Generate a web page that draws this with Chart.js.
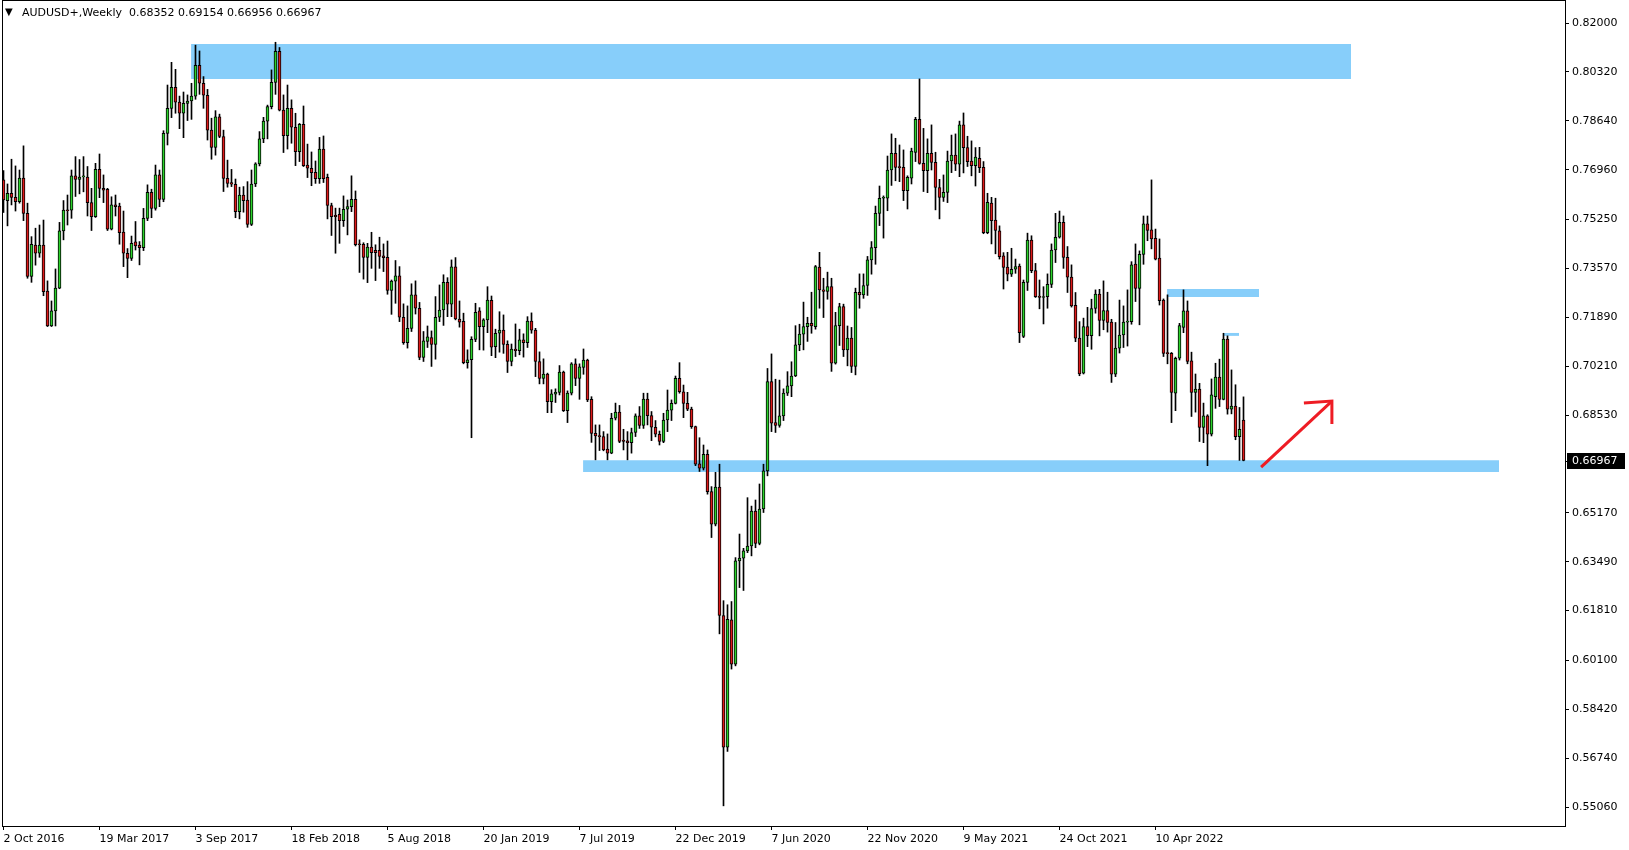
<!DOCTYPE html>
<html><head><meta charset="utf-8">
<script src="https://cdn.jsdelivr.net/npm/chart.js@4.4.1/dist/chart.umd.min.js"></script>
<style>html,body{margin:0;padding:0;background:#fff;overflow:hidden}#wrap{position:relative;width:1629px;height:850px}</style>
</head><body><div id="wrap"><canvas id="c" width="1629" height="850"></canvas></div>
<script>
const titleSymbol = "AUDUSD+,Weekly";
const titleValues = "0.68352 0.69154 0.66956 0.66967";

const opens = [0.7661,0.7590,0.7615,0.7601,0.7586,0.7667,0.7546,0.7329,0.7437,0.7409,
0.7437,0.7279,0.7159,0.7211,0.7289,0.7486,0.7557,0.7557,0.7675,0.7663,
0.7671,0.7671,0.7583,0.7535,0.7697,0.7632,0.7629,0.7492,0.7575,0.7571,
0.7482,0.7409,0.7391,0.7448,0.7437,0.7428,0.7529,0.7618,0.7563,0.7678,
0.7594,0.7821,0.7907,0.7979,0.7928,0.7890,0.7924,0.7932,0.7949,0.8055,
0.7993,0.7952,0.7832,0.7773,0.7878,0.7810,0.7666,0.7652,0.7646,0.7552,
0.7609,0.7592,0.7508,0.7647,0.7716,0.7802,0.7863,0.7913,0.7996,0.8103,
0.7901,0.7813,0.7907,0.7842,0.7758,0.7852,0.7712,0.7701,0.7687,0.7665,
0.7767,0.7670,0.7573,0.7539,0.7543,0.7521,0.7560,0.7569,0.7594,0.7440,
0.7440,0.7395,0.7430,0.7419,0.7419,0.7400,0.7395,0.7281,0.7313,0.7331,
0.7189,0.7102,0.7151,0.7266,0.7220,0.7051,0.7106,0.7119,0.7096,0.7189,
0.7214,0.7309,0.7234,0.7362,0.7183,0.7175,0.7033,0.7043,0.7113,0.7211,
0.7157,0.7180,0.7247,0.7088,0.7134,0.7145,0.7096,0.7037,0.7080,0.7074,
0.7111,0.7102,0.7176,0.7145,0.7037,0.6979,0.6994,0.6899,0.6925,0.6931,
0.7001,0.6868,0.6928,0.7029,0.6979,0.7017,0.7042,0.6907,0.6790,0.6781,
0.6779,0.6736,0.6722,0.6842,0.6863,0.6767,0.6764,0.6758,0.6793,0.6850,
0.6817,0.6908,0.6851,0.6811,0.6787,0.6762,0.6836,0.6870,0.6893,0.6979,
0.6933,0.6893,0.6873,0.6813,0.6685,0.6670,0.6718,0.6590,0.6478,0.6605,
0.6164,0.5712,0.6149,0.5997,0.6352,0.6361,0.6386,0.6403,0.6523,0.6412,
0.6530,0.6661,0.6968,0.6827,0.6817,0.6850,0.6928,0.6953,0.6987,0.7094,
0.7131,0.7157,0.7168,0.7157,0.7361,0.7283,0.7278,0.7294,0.7031,0.7160,
0.7226,0.7077,0.7117,0.7020,0.7275,0.7266,0.7298,0.7386,0.7428,0.7546,
0.7598,0.7598,0.7695,0.7752,0.7707,0.7704,0.7624,0.7667,0.7755,0.7869,
0.7718,0.7693,0.7752,0.7721,0.7635,0.7601,0.7618,0.7726,0.7746,0.7715,
0.7850,0.7772,0.7726,0.7710,0.7735,0.7704,0.7480,0.7581,0.7523,0.7486,
0.7400,0.7361,0.7337,0.7354,0.7365,0.7123,0.7309,0.7454,0.7349,0.7262,
0.7257,0.7260,0.7302,0.7420,0.7464,0.7515,0.7395,0.7327,0.7230,0.7117,
0.6997,0.7157,0.7126,0.7219,0.7269,0.7178,0.7212,0.7172,0.6993,0.7083,
0.7128,0.7172,0.7174,0.7372,0.7288,0.7405,0.7510,0.7489,0.7460,0.7392,
0.7248,0.7067,0.7065,0.6928,0.7048,0.7154,0.7211,0.7039,0.6931,0.6942,
0.6810,0.6850,0.6787,0.6916,0.6983,0.6907,0.7114,0.6873,0.6884,0.6779,
0.68352];

const highs = [0.7693,0.7647,0.7732,0.7709,0.7695,0.7778,0.7581,0.7466,0.7495,0.7506,
0.7523,0.7314,0.7245,0.7355,0.7515,0.7590,0.7609,0.7695,0.7741,0.7731,
0.7741,0.7707,0.7632,0.7718,0.7750,0.7678,0.7632,0.7603,0.7609,0.7581,
0.7554,0.7425,0.7468,0.7518,0.7449,0.7563,0.7644,0.7629,0.7712,0.7695,
0.7830,0.7987,0.8065,0.8041,0.7949,0.7963,0.7953,0.7993,0.8124,0.8104,
0.8016,0.7972,0.7873,0.7899,0.7887,0.7832,0.7729,0.7697,0.7664,0.7636,
0.7638,0.7655,0.7695,0.7720,0.7827,0.7876,0.7918,0.8039,0.8134,0.8116,
0.7953,0.7987,0.7936,0.7890,0.7855,0.7915,0.7784,0.7757,0.7726,0.7807,
0.7812,0.7681,0.7581,0.7564,0.7564,0.7606,0.7592,0.7675,0.7623,0.7455,
0.7445,0.7443,0.7481,0.7438,0.7464,0.7441,0.7451,0.7317,0.7384,0.7363,
0.7235,0.7228,0.7304,0.7314,0.7240,0.7140,0.7159,0.7142,0.7260,0.7300,
0.7335,0.7325,0.7386,0.7394,0.7245,0.7203,0.7077,0.7122,0.7237,0.7222,
0.7184,0.7294,0.7262,0.7148,0.7208,0.7197,0.7108,0.7097,0.7166,0.7148,
0.7132,0.7191,0.7204,0.7151,0.7070,0.7046,0.6997,0.6940,0.6943,0.7023,
0.7004,0.6936,0.7033,0.7046,0.7029,0.7080,0.7045,0.6916,0.6819,0.6819,
0.6796,0.6788,0.6859,0.6894,0.6886,0.6804,0.6796,0.6808,0.6857,0.6882,
0.6928,0.6928,0.6865,0.6834,0.6798,0.6859,0.6939,0.6905,0.6987,0.7033,
0.6956,0.6931,0.6880,0.6815,0.6775,0.6750,0.6733,0.6607,0.6656,0.6684,
0.6215,0.6201,0.6212,0.6363,0.6444,0.6395,0.6569,0.6540,0.6561,0.6616,
0.6684,0.7013,0.7063,0.6976,0.6973,0.6943,0.7002,0.7036,0.7160,0.7165,
0.7241,0.7189,0.7275,0.7367,0.7412,0.7323,0.7344,0.7323,0.7206,0.7237,
0.7234,0.7159,0.7154,0.7289,0.7338,0.7338,0.7398,0.7449,0.7571,0.7640,
0.7606,0.7743,0.7819,0.7804,0.7781,0.7764,0.7675,0.7770,0.7876,0.8008,
0.7838,0.7802,0.7850,0.7756,0.7663,0.7678,0.7760,0.7815,0.7819,0.7863,
0.7891,0.7811,0.7795,0.7772,0.7773,0.7724,0.7615,0.7601,0.7598,0.7503,
0.7411,0.7412,0.7426,0.7389,0.7372,0.7317,0.7478,0.7469,0.7374,0.7317,
0.7294,0.7338,0.7441,0.7546,0.7554,0.7537,0.7432,0.7369,0.7274,0.7174,
0.7186,0.7223,0.7251,0.7283,0.7285,0.7314,0.7275,0.7182,0.7171,0.7248,
0.7228,0.7283,0.7380,0.7441,0.7417,0.7537,0.7537,0.7661,0.7492,0.7458,
0.7252,0.7266,0.7068,0.7052,0.7168,0.7283,0.7245,0.7069,0.6994,0.6962,
0.6894,0.6854,0.6977,0.7031,0.7045,0.7134,0.7125,0.7008,0.6957,0.6879,
0.69154];

const lows = [0.7549,0.7503,0.7575,0.7554,0.7581,0.7521,0.7323,0.7309,0.7368,0.7395,
0.7263,0.7157,0.7157,0.7159,0.7287,0.7455,0.7506,0.7529,0.7604,0.7613,
0.7620,0.7537,0.7487,0.7532,0.7600,0.7583,0.7487,0.7489,0.7537,0.7440,
0.7363,0.7325,0.7384,0.7420,0.7369,0.7418,0.7521,0.7531,0.7557,0.7569,
0.7586,0.7781,0.7875,0.7890,0.7837,0.7806,0.7865,0.7869,0.7938,0.7955,
0.7907,0.7798,0.7732,0.7746,0.7806,0.7621,0.7636,0.7638,0.7531,0.7527,
0.7550,0.7498,0.7504,0.7638,0.7709,0.7789,0.7802,0.7905,0.7955,0.7898,
0.7755,0.7767,0.7787,0.7710,0.7724,0.7707,0.7669,0.7641,0.7649,0.7649,
0.7652,0.7527,0.7470,0.7409,0.7443,0.7501,0.7472,0.7552,0.7434,0.7343,
0.7320,0.7308,0.7357,0.7315,0.7357,0.7346,0.7268,0.7199,0.7237,0.7174,
0.7096,0.7083,0.7140,0.7200,0.7043,0.7037,0.7085,0.7020,0.7045,0.7174,
0.7161,0.7191,0.7191,0.7180,0.7155,0.7029,0.7014,0.6775,0.7105,0.7077,
0.7076,0.7136,0.7057,0.7050,0.7069,0.7065,0.6999,0.7022,0.7054,0.7060,
0.7052,0.7085,0.7134,0.6985,0.6960,0.6960,0.6861,0.6861,0.6896,0.6922,
0.6865,0.6827,0.6922,0.6954,0.6907,0.6993,0.6899,0.6759,0.6699,0.6731,
0.6730,0.6699,0.6720,0.6836,0.6758,0.6733,0.6699,0.6722,0.6779,0.6807,
0.6807,0.6819,0.6765,0.6778,0.6750,0.6758,0.6796,0.6834,0.6891,0.6928,
0.6844,0.6868,0.6807,0.6679,0.6659,0.6664,0.6581,0.6432,0.6472,0.6101,
0.5510,0.5697,0.5980,0.5991,0.6260,0.6250,0.6380,0.6369,0.6397,0.6407,
0.6518,0.6644,0.6796,0.6793,0.6811,0.6834,0.6920,0.6916,0.6985,0.7074,
0.7077,0.7106,0.7134,0.7148,0.7220,0.7188,0.7251,0.7003,0.7028,0.7092,
0.7054,0.7022,0.6999,0.6991,0.7220,0.7254,0.7264,0.7337,0.7371,0.7504,
0.7461,0.7555,0.7642,0.7658,0.7655,0.7590,0.7561,0.7647,0.7724,0.7715,
0.7621,0.7617,0.7695,0.7558,0.7527,0.7587,0.7583,0.7686,0.7693,0.7672,
0.7685,0.7707,0.7675,0.7640,0.7686,0.7476,0.7476,0.7441,0.7407,0.7389,
0.7286,0.7314,0.7329,0.7340,0.7102,0.7119,0.7281,0.7342,0.7257,0.7218,
0.7166,0.7220,0.7291,0.7377,0.7461,0.7357,0.7274,0.7224,0.7105,0.6988,
0.6994,0.7088,0.7079,0.7203,0.7125,0.7146,0.7138,0.6965,0.6985,0.7066,
0.7085,0.7090,0.7165,0.7243,0.7163,0.7371,0.7452,0.7424,0.7386,0.7231,
0.7054,0.7029,0.6827,0.6868,0.7042,0.7136,0.7029,0.6848,0.6863,0.6762,
0.6758,0.6679,0.6781,0.6876,0.6882,0.6905,0.6856,0.6857,0.6768,0.6697,
0.66956];

const closes = [0.7592,0.7615,0.7601,0.7586,0.7667,0.7546,0.7329,0.7440,0.7409,0.7437,
0.7277,0.7159,0.7211,0.7289,0.7486,0.7557,0.7555,0.7675,0.7663,0.7671,
0.7675,0.7583,0.7535,0.7697,0.7632,0.7626,0.7492,0.7575,0.7569,0.7480,
0.7409,0.7391,0.7443,0.7434,0.7428,0.7529,0.7618,0.7563,0.7678,0.7594,
0.7821,0.7907,0.7979,0.7928,0.7890,0.7924,0.7932,0.7949,0.8055,0.7993,
0.7952,0.7832,0.7773,0.7878,0.7810,0.7666,0.7649,0.7646,0.7552,0.7609,
0.7590,0.7508,0.7647,0.7716,0.7802,0.7863,0.7913,0.7996,0.8103,0.7901,
0.7813,0.7907,0.7842,0.7758,0.7852,0.7710,0.7701,0.7686,0.7665,0.7767,
0.7665,0.7573,0.7535,0.7535,0.7521,0.7560,0.7569,0.7594,0.7438,0.7438,
0.7395,0.7430,0.7411,0.7411,0.7398,0.7394,0.7281,0.7313,0.7331,0.7189,
0.7102,0.7151,0.7266,0.7220,0.7051,0.7108,0.7122,0.7096,0.7189,0.7214,
0.7309,0.7234,0.7362,0.7183,0.7172,0.7033,0.7043,0.7113,0.7206,0.7157,
0.7180,0.7248,0.7086,0.7134,0.7145,0.7096,0.7037,0.7080,0.7074,0.7111,
0.7102,0.7176,0.7145,0.7037,0.6979,0.6994,0.6899,0.6926,0.6931,0.7001,
0.6868,0.6928,0.7029,0.6979,0.7019,0.7042,0.6905,0.6790,0.6781,0.6779,
0.6733,0.6722,0.6842,0.6863,0.6762,0.6762,0.6758,0.6793,0.6850,0.6817,
0.6908,0.6851,0.6811,0.6787,0.6762,0.6836,0.6870,0.6893,0.6979,0.6933,
0.6893,0.6873,0.6813,0.6684,0.6670,0.6718,0.6590,0.6478,0.6605,0.6164,
0.5712,0.6151,0.5997,0.6352,0.6361,0.6386,0.6403,0.6523,0.6412,0.6530,
0.6661,0.6968,0.6825,0.6817,0.6850,0.6928,0.6953,0.6987,0.7094,0.7131,
0.7157,0.7168,0.7159,0.7363,0.7283,0.7278,0.7294,0.7031,0.7160,0.7226,
0.7077,0.7117,0.7020,0.7275,0.7266,0.7298,0.7386,0.7428,0.7546,0.7598,
0.7601,0.7695,0.7752,0.7704,0.7703,0.7624,0.7670,0.7760,0.7869,0.7718,
0.7693,0.7752,0.7721,0.7635,0.7601,0.7618,0.7726,0.7746,0.7715,0.7850,
0.7772,0.7724,0.7710,0.7739,0.7703,0.7480,0.7584,0.7521,0.7487,0.7397,
0.7360,0.7337,0.7354,0.7363,0.7136,0.7309,0.7454,0.7349,0.7260,0.7257,
0.7260,0.7302,0.7420,0.7464,0.7515,0.7395,0.7327,0.7228,0.7117,0.6994,
0.7157,0.7126,0.7219,0.7269,0.7178,0.7212,0.7171,0.6993,0.7083,0.7128,
0.7172,0.7175,0.7369,0.7288,0.7405,0.7510,0.7487,0.7458,0.7389,0.7246,
0.7065,0.7064,0.6931,0.7048,0.7160,0.7211,0.7037,0.6931,0.6942,0.6810,
0.6850,0.6787,0.6922,0.6983,0.6907,0.7114,0.6873,0.6884,0.6779,0.6804,
0.66967];

// x axis: week index (0 = week of 2 Oct 2016)
const xTickIndex = [0,24,48,72,96,120,144,168,192,216,240,264,288];
const xTickLabels = ["2 Oct 2016","19 Mar 2017","3 Sep 2017","18 Feb 2018","5 Aug 2018","20 Jan 2019","7 Jul 2019","22 Dec 2019","7 Jun 2020","22 Nov 2020","9 May 2021","24 Oct 2021","10 Apr 2022"];
const yTickValues = [0.82000,0.80320,0.78640,0.76960,0.75250,0.73570,0.71890,0.70210,0.68530,0.65170,0.63490,0.61810,0.60100,0.58420,0.56740,0.55060];
const yTickLabels = ["0.82000","0.80320","0.78640","0.76960","0.75250","0.73570","0.71890","0.70210","0.68530","0.65170","0.63490","0.61810","0.60100","0.58420","0.56740","0.55060"];

// zones (rectangles): start index, end index, top price, bottom price
const zoneStart  = [46.9, 144.9, 290.9, 305.1];
const zoneEnd    = [336.9, 373.9, 313.9, 308.9];
const zoneTop    = [0.8128, 0.6698, 0.7286, 0.7135];
const zoneBottom = [0.8008, 0.6657, 0.7259, 0.7125];

// red arrow
const arrowShaftX = [314.4, 332.1];
const arrowShaftY = [0.6674, 0.6901];
const arrowHeadX  = [325.1, 332.1, 332.1];
const arrowHeadY  = [0.6894, 0.6901, 0.6822];

const UP = '#2bd22b', DOWN = '#dd1a1a', ZONE = '#87cefa', ARROW = '#ee1c24';
const FONT = 'DejaVu Sans';

const idx = opens.map((_, i) => i);
const zoneSets = zoneStart.map((s, k) => ({
  type: 'line',
  data: [{x: s, y: zoneTop[k]}, {x: zoneEnd[k], y: zoneTop[k]}],
  fill: {value: zoneBottom[k]},
  backgroundColor: ZONE,
  borderWidth: 0,
  pointRadius: 0,
  tension: 0,
  order: 20
}));

const framePlugin = {
  id: 'frame',
  afterDraw(chart) {
    const ctx = chart.ctx, a = chart.chartArea, y = chart.scales.y;
    ctx.save();
    ctx.strokeStyle = '#000'; ctx.lineWidth = 1;
    ctx.strokeRect(a.left + 0.5, 0.5, a.right - a.left, a.bottom);
    // title
    ctx.fillStyle = '#000';
    ctx.font = '10px ' + FONT;
    ctx.textBaseline = 'middle';
    ctx.fillText('\u25BC', 5, 12);
    ctx.font = '11px ' + FONT;
    ctx.fillText(titleSymbol + '  ' + titleValues, 22, 13);
    // current price label
    const last = closes[closes.length - 1];
    const py = Math.round(y.getPixelForValue(last));
    ctx.fillStyle = '#000';
    ctx.fillRect(a.right + 2, py - 8, 58, 16);
    ctx.fillRect(a.right, py, 4, 1);
    ctx.fillStyle = '#fff';
    ctx.fillText(last.toFixed(5), a.right + 7, py + 0.5);
    ctx.restore();
  }
};

new Chart(document.getElementById('c'), {
  data: {
    datasets: [
      ...zoneSets,
      {
        type: 'bar', label: 'wick',
        data: idx.map(i => ({x: i, y: [lows[i], highs[i]]})),
        backgroundColor: '#000', borderWidth: 0,
        barThickness: 1, grouped: false, order: 5
      },
      {
        type: 'bar', label: 'body',
        data: idx.map(i => ({x: i, y: [opens[i], closes[i]]})),
        backgroundColor: c => closes[c.dataIndex] >= opens[c.dataIndex] ? UP : DOWN,
        borderColor: '#000', borderWidth: 1, borderSkipped: false,
        barThickness: 3, grouped: false, minBarLength: 1, order: 4
      },
      {
        type: 'line', label: 'arrow',
        data: arrowShaftX.map((v, k) => ({x: v, y: arrowShaftY[k]})),
        borderColor: ARROW, borderWidth: 3, pointRadius: 0, fill: false, order: 0
      },
      {
        type: 'line', label: 'arrowhead',
        data: arrowHeadX.map((v, k) => ({x: v, y: arrowHeadY[k]})),
        borderColor: ARROW, borderWidth: 3, pointRadius: 0, fill: false, order: 0
      }
    ]
  },
  options: {
    responsive: false, maintainAspectRatio: false, animation: false,
    devicePixelRatio: 1,
    layout: {padding: {left: 2, top: 1, right: 0, bottom: 0}},
    plugins: {legend: {display: false}, tooltip: {enabled: false}, title: {display: false}},
    scales: {
      x: {
        type: 'linear', min: -0.375, max: 390.375, offset: false,
        afterBuildTicks: s => { s.ticks = xTickIndex.map(v => ({value: v})); },
        afterFit: s => { s.height = 24; s.paddingLeft = 0; s.paddingRight = 0; },
        ticks: {autoSkip: false, maxRotation: 0, minRotation: 0, align: 'start', padding: 3,
                color: '#000', font: {family: FONT, size: 11},
                callback: (v, i) => xTickLabels[i]},
        grid: {display: true, offset: false, drawOnChartArea: false, drawTicks: true, tickLength: 4, color: '#000'},
        border: {display: false}
      },
      y: {
        type: 'linear', position: 'right', min: 0.544071, max: 0.827576,
        afterBuildTicks: s => { s.ticks = yTickValues.map(v => ({value: v})); },
        afterFit: s => { s.width = 64; s.paddingTop = 0; s.paddingBottom = 0; },
        ticks: {autoSkip: false, padding: 3, color: '#000', font: {family: FONT, size: 11},
                callback: (v, i) => yTickLabels[i]},
        grid: {display: true, drawOnChartArea: false, drawTicks: true, tickLength: 4, color: '#000'},
        border: {display: false}
      }
    }
  },
  plugins: [framePlugin]
});
</script>
</body></html>
